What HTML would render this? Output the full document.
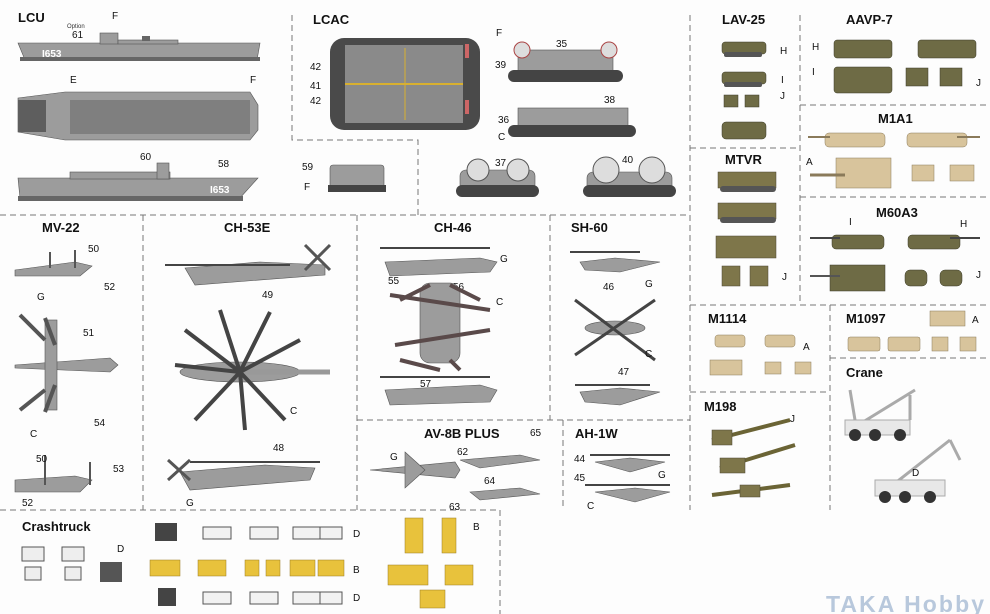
<!DOCTYPE html>
<html><head><meta charset="utf-8"><style>
html,body{margin:0;padding:0;background:#fff;}
svg{display:block}
text{font-family:"Liberation Sans",sans-serif;}
.t{font-weight:bold;font-size:13px;fill:#111}
.l{font-size:10px;fill:#111;font-family:"Liberation Sans Narrow","Liberation Sans",sans-serif}
.d{stroke:#777;stroke-width:1;stroke-dasharray:6,4;fill:none}
.g{fill:#9c9c9c;stroke:#555;stroke-width:.6}
.dg{fill:#666}
.c{fill:#6e6b45;stroke:#3a3a28;stroke-width:.5}
.tan{fill:#d8c49c;stroke:#8a7a5a;stroke-width:.5}
.ol{fill:#7e764a;stroke:#4a4530;stroke-width:.5}
.y{fill:#e8c23c;stroke:#9a7c20;stroke-width:.5}
.r{fill:#555}
</style></head><body>
<svg width="990" height="614" viewBox="0 0 990 614">
<rect width="990" height="614" fill="#fdfdfd"/>
<path class="d" d="M292 15V140H418V215M0 215H690M690 15V510M800 15V305M800 105H990M690 148H800M800 197H990M690 305H990M830 305V510M830 358H990M690 392H830M143 215V510M357 215V510M550 215V420M357 420H690M563 420V510M0 510H500V614"/>
<!-- LCU -->
<text class="t" x="18" y="22">LCU</text>
<text class="l" x="112" y="19">F</text><text class="l" x="72" y="38">61</text>
<text x="67" y="28" font-size="6" fill="#333">Option</text>
<path class="g" d="M18 43 L260 43 L257 60 L25 60 Z"/>
<rect class="g" x="100" y="33" width="18" height="11"/><rect class="g" x="118" y="40" width="60" height="4"/><rect class="dg" x="142" y="36" width="8" height="5"/>
<rect class="dg" x="20" y="57" width="240" height="4"/>
<text x="42" y="57" font-size="10" fill="#fff" font-weight="bold">I653</text>
<text class="l" x="70" y="83">E</text><text class="l" x="250" y="83">F</text>
<path class="g" d="M18 98 L65 92 L250 92 L258 105 L258 130 L250 140 L65 140 L18 132 Z"/>
<rect fill="#7f7f7f" x="70" y="100" width="180" height="34"/>
<rect fill="#5e5e5e" x="18" y="100" width="28" height="32"/>
<text class="l" x="140" y="160">60</text><text class="l" x="218" y="167">58</text>
<path class="g" d="M18 178 L258 178 L240 198 L20 198 Z"/>
<rect class="g" x="70" y="172" width="100" height="7"/><rect class="g" x="157" y="163" width="12" height="16"/>
<rect class="dg" x="18" y="196" width="225" height="5"/>
<text x="210" y="193" font-size="10" fill="#fff" font-weight="bold">I653</text>
<!-- LCAC -->
<text class="t" x="313" y="24">LCAC</text>
<rect fill="#4a4a4a" x="330" y="38" width="150" height="92" rx="14"/>
<rect fill="#8a8a8a" x="345" y="45" width="118" height="78"/>
<path d="M345 84H463" stroke="#d8b030" stroke-width="2"/><path d="M405 48V120" stroke="#d8b030" stroke-width="1"/>
<rect fill="#c66" x="465" y="44" width="4" height="14"/><rect fill="#c66" x="465" y="100" width="4" height="14"/>
<text class="l" x="310" y="70">42</text><text class="l" x="310" y="89">41</text><text class="l" x="310" y="104">42</text>
<text class="l" x="496" y="36">F</text>
<rect class="g" x="518" y="50" width="95" height="22"/><rect fill="#444" x="508" y="70" width="115" height="12" rx="6"/>
<circle cx="522" cy="50" r="8" fill="#ddd" stroke="#a44"/><circle cx="609" cy="50" r="8" fill="#ddd" stroke="#a44"/>
<text class="l" x="556" y="47">35</text><text class="l" x="495" y="68">39</text>
<rect class="g" x="518" y="108" width="110" height="20"/><rect fill="#444" x="508" y="125" width="128" height="12" rx="6"/>
<text class="l" x="604" y="103">38</text><text class="l" x="498" y="123">36</text><text class="l" x="498" y="140">C</text>
<rect class="g" x="460" y="170" width="75" height="20" rx="6"/><rect fill="#444" x="456" y="185" width="83" height="12" rx="6"/>
<circle cx="478" cy="170" r="11" fill="#ddd" stroke="#555"/><circle cx="518" cy="170" r="11" fill="#ddd" stroke="#555"/>
<text class="l" x="495" y="166">37</text>
<rect class="g" x="587" y="172" width="85" height="20" rx="6"/><rect fill="#444" x="583" y="185" width="93" height="12" rx="6"/>
<circle cx="606" cy="170" r="13" fill="#ddd" stroke="#555"/><circle cx="652" cy="170" r="13" fill="#ddd" stroke="#555"/>
<text class="l" x="622" y="163">40</text>
<rect class="g" x="330" y="165" width="54" height="24" rx="3"/><rect fill="#444" x="328" y="185" width="58" height="7"/>
<text class="l" x="302" y="170">59</text><text class="l" x="304" y="190">F</text>
<!-- LAV-25 -->
<text class="t" x="722" y="24">LAV-25</text>
<rect class="c" x="722" y="42" width="44" height="12" rx="3"/><rect class="r" x="724" y="52" width="38" height="5" rx="2"/><text class="l" x="780" y="54">H</text>
<rect class="c" x="722" y="72" width="44" height="12" rx="3"/><rect class="r" x="724" y="82" width="38" height="5" rx="2"/><text class="l" x="781" y="83">I</text>
<rect class="c" x="724" y="95" width="14" height="12"/><rect class="c" x="745" y="95" width="14" height="12"/><text class="l" x="780" y="99">J</text>
<rect class="c" x="722" y="122" width="44" height="17" rx="4"/>
<!-- AAVP-7 -->
<text class="t" x="846" y="24">AAVP-7</text>
<text class="l" x="812" y="50">H</text><rect class="c" x="834" y="40" width="58" height="18" rx="3"/>
<rect class="c" x="918" y="40" width="58" height="18" rx="3"/>
<text class="l" x="812" y="75">I</text><rect class="c" x="834" y="67" width="58" height="26" rx="3"/>
<rect class="c" x="906" y="68" width="22" height="18"/><rect class="c" x="940" y="68" width="22" height="18"/><text class="l" x="976" y="86">J</text>
<!-- M1A1 -->
<text class="t" x="878" y="123">M1A1</text>
<rect class="tan" x="825" y="133" width="60" height="14" rx="4"/><rect class="tan" x="907" y="133" width="60" height="14" rx="4"/>
<path d="M808 137H830M957 137H980" stroke="#8a7a5a" stroke-width="2"/>
<text class="l" x="806" y="165">A</text><rect class="tan" x="836" y="158" width="55" height="30"/><path d="M810 175H845" stroke="#8a7a5a" stroke-width="3"/>
<rect class="tan" x="912" y="165" width="22" height="16"/><rect class="tan" x="950" y="165" width="24" height="16"/>
<!-- M60A3 -->
<text class="t" x="876" y="217">M60A3</text><text class="l" x="849" y="225">I</text><text class="l" x="960" y="227">H</text>
<rect class="c" x="832" y="235" width="52" height="14" rx="4"/><rect class="c" x="908" y="235" width="52" height="14" rx="4"/>
<path d="M810 238H840M950 238H980" stroke="#444" stroke-width="2"/>
<rect class="c" x="830" y="265" width="55" height="26"/><path d="M810 276H840" stroke="#555" stroke-width="2"/>
<rect class="c" x="905" y="270" width="22" height="16" rx="5"/><rect class="c" x="940" y="270" width="22" height="16" rx="5"/><text class="l" x="976" y="278">J</text>
<!-- MTVR -->
<text class="t" x="725" y="164">MTVR</text>
<rect class="ol" x="718" y="172" width="58" height="16"/><rect class="r" x="720" y="186" width="56" height="6" rx="3"/>
<rect class="ol" x="718" y="203" width="58" height="16"/><rect class="r" x="720" y="217" width="56" height="6" rx="3"/>
<rect class="ol" x="716" y="236" width="60" height="22"/>
<rect class="ol" x="722" y="266" width="18" height="20"/><rect class="ol" x="750" y="266" width="18" height="20"/><text class="l" x="782" y="280">J</text>
<!-- MV-22 -->
<text class="t" x="42" y="232">MV-22</text>
<path class="g" d="M15 270 L75 262 L92 266 L80 276 L15 276Z"/><path d="M50 252V268M75 250V268" stroke="#555" stroke-width="2"/>
<text class="l" x="88" y="252">50</text><text class="l" x="104" y="290">52</text><text class="l" x="37" y="300">G</text>
<path class="g" d="M15 365 L110 358 L118 365 L110 372 L15 368Z"/><rect class="g" x="45" y="320" width="12" height="90"/>
<path d="M20 315L45 340M20 410L45 390M45 318L55 345M45 412L55 385" stroke="#555" stroke-width="4"/>
<text class="l" x="83" y="336">51</text><text class="l" x="94" y="426">54</text><text class="l" x="30" y="437">C</text>
<path class="g" d="M15 480 L75 476 L92 480 L80 492 L15 492Z"/><path d="M45 455V485M90 462V485" stroke="#555" stroke-width="2"/>
<text class="l" x="36" y="462">50</text><text class="l" x="113" y="472">53</text><text class="l" x="22" y="506">52</text>
<!-- CH-53E -->
<text class="t" x="224" y="232">CH-53E</text>
<path class="g" d="M185 268 L260 262 L325 265 L325 275 L195 285Z"/><path d="M165 265H290" stroke="#444" stroke-width="2"/>
<path d="M305 245L330 270M305 270L330 245" stroke="#555" stroke-width="3"/><text class="l" x="262" y="298">49</text>
<ellipse class="g" cx="240" cy="372" rx="60" ry="10"/><path d="M240 372L330 372" stroke="#999" stroke-width="5"/>
<path d="M240 372L220 310M240 372L270 312M240 372L300 340M240 372L285 420M240 372L245 430M240 372L195 420M240 372L175 365M240 372L185 330" stroke="#444" stroke-width="4"/>
<text class="l" x="290" y="414">C</text>
<path class="g" d="M180 472 L265 465 L315 468 L310 480 L190 490Z"/><path d="M190 462H320" stroke="#444" stroke-width="2"/>
<path d="M168 460L190 480M168 480L190 460" stroke="#555" stroke-width="3"/><text class="l" x="273" y="451">48</text><text class="l" x="186" y="506">G</text>
<!-- CH-46 -->
<text class="t" x="434" y="232">CH-46</text>
<path d="M380 248H490" stroke="#444" stroke-width="2"/><path class="g" d="M385 262 L480 258 L497 262 L490 272 L390 276Z"/>
<text class="l" x="500" y="262">G</text><text class="l" x="388" y="284">55</text><text class="l" x="453" y="290">56</text>
<rect class="g" x="420" y="283" width="40" height="80" rx="10"/>
<path d="M390 295L490 310M395 345L490 330M400 300L430 285M450 285L480 300M400 360L440 370M450 360L460 370" stroke="#5a4a4a" stroke-width="4"/>
<text class="l" x="496" y="305">C</text>
<path d="M380 377H490" stroke="#444" stroke-width="2"/><path class="g" d="M385 390 L480 385 L497 390 L490 402 L390 405Z"/><text class="l" x="420" y="387">57</text>
<!-- SH-60 -->
<text class="t" x="571" y="232">SH-60</text>
<path d="M570 252H640" stroke="#444" stroke-width="2"/><path class="g" d="M580 262 L615 258 L660 262 L620 272 L585 270Z"/>
<text class="l" x="603" y="290">46</text><text class="l" x="645" y="287">G</text>
<ellipse class="g" cx="615" cy="328" rx="30" ry="7"/><path d="M575 300L655 360M575 355L655 300" stroke="#444" stroke-width="3"/>
<text class="l" x="645" y="357">C</text>
<path d="M575 385H650" stroke="#444" stroke-width="2"/><path class="g" d="M580 392 L620 388 L660 392 L620 405 L585 402Z"/><text class="l" x="618" y="375">47</text>
<!-- AV-8B -->
<text class="t" x="424" y="438">AV-8B PLUS</text><text class="l" x="530" y="436">65</text>
<path class="g" d="M370 470L455 462L460 470L455 478Z"/><path class="g" d="M405 452L425 470L405 488Z"/><text class="l" x="390" y="460">G</text>
<path class="g" d="M460 460L520 455L540 460L480 468Z"/><text class="l" x="457" y="455">62</text>
<path class="g" d="M470 492L520 488L540 494L480 500Z"/><text class="l" x="484" y="484">64</text><text class="l" x="449" y="510">63</text>
<!-- AH-1W -->
<text class="t" x="575" y="438">AH-1W</text>
<path d="M590 455H670" stroke="#444" stroke-width="2"/><path class="g" d="M595 462 L630 458 L665 462 L630 472Z"/><text class="l" x="574" y="462">44</text>
<path d="M585 485H670" stroke="#444" stroke-width="2"/><path class="g" d="M595 492 L635 488 L670 492 L635 502Z"/><text class="l" x="574" y="481">45</text><text class="l" x="587" y="509">C</text><text class="l" x="658" y="478">G</text>
<!-- M1114 -->
<text class="t" x="708" y="323">M1114</text>
<rect class="tan" x="715" y="335" width="30" height="12" rx="3"/><rect class="tan" x="765" y="335" width="30" height="12" rx="3"/><text class="l" x="803" y="350">A</text>
<rect class="tan" x="710" y="360" width="32" height="15"/><rect class="tan" x="765" y="362" width="16" height="12"/><rect class="tan" x="795" y="362" width="16" height="12"/>
<!-- M1097 -->
<text class="t" x="846" y="323">M1097</text>
<rect class="tan" x="930" y="311" width="35" height="15"/><text class="l" x="972" y="323">A</text>
<rect class="tan" x="848" y="337" width="32" height="14" rx="2"/><rect class="tan" x="888" y="337" width="32" height="14" rx="2"/><rect class="tan" x="932" y="337" width="16" height="14"/><rect class="tan" x="960" y="337" width="16" height="14"/>
<!-- M198 -->
<text class="t" x="704" y="411">M198</text><text class="l" x="790" y="422">J</text>
<path d="M712 440L790 420M720 468L795 445M712 495L790 485" stroke="#6b6435" stroke-width="4"/>
<rect class="ol" x="712" y="430" width="20" height="15"/><rect class="ol" x="720" y="458" width="25" height="15"/><rect class="ol" x="740" y="485" width="20" height="12"/>
<!-- Crane -->
<text class="t" x="846" y="377">Crane</text>
<path d="M850 430L915 390M855 420L850 390M910 395L910 420" stroke="#aaa" stroke-width="3" fill="none"/>
<rect fill="#e8e8e8" stroke="#aaa" x="845" y="420" width="65" height="15"/>
<circle cx="855" cy="435" r="6" fill="#333"/><circle cx="875" cy="435" r="6" fill="#333"/><circle cx="900" cy="435" r="6" fill="#333"/>
<path d="M880 495L950 440M950 440L960 460" stroke="#aaa" stroke-width="3" fill="none"/><text class="l" x="912" y="476">D</text>
<rect fill="#e8e8e8" stroke="#aaa" x="875" y="480" width="70" height="16"/>
<circle cx="885" cy="497" r="6" fill="#333"/><circle cx="905" cy="497" r="6" fill="#333"/><circle cx="930" cy="497" r="6" fill="#333"/>
<!-- Crashtruck -->
<text class="t" x="22" y="531">Crashtruck</text><text class="l" x="117" y="552">D</text>
<rect fill="#eee" stroke="#555" x="22" y="547" width="22" height="14"/><rect fill="#eee" stroke="#555" x="62" y="547" width="22" height="14"/>
<rect fill="#eee" stroke="#555" x="25" y="567" width="16" height="13"/><rect fill="#eee" stroke="#555" x="65" y="567" width="16" height="13"/><rect fill="#555" x="100" y="562" width="22" height="20"/>
<rect fill="#444" x="155" y="523" width="22" height="18"/>
<g fill="#f2f2f2" stroke="#555">
<rect x="203" y="527" width="28" height="12"/><rect x="250" y="527" width="28" height="12"/><rect x="293" y="527" width="28" height="12"/><rect x="320" y="527" width="22" height="12"/>
<rect x="203" y="592" width="28" height="12"/><rect x="250" y="592" width="28" height="12"/><rect x="293" y="592" width="28" height="12"/><rect x="320" y="592" width="22" height="12"/></g>
<rect fill="#444" x="158" y="588" width="18" height="18"/>
<g class="y"><rect x="150" y="560" width="30" height="16"/><rect x="198" y="560" width="28" height="16"/><rect x="245" y="560" width="14" height="16"/><rect x="266" y="560" width="14" height="16"/><rect x="290" y="560" width="25" height="16"/><rect x="318" y="560" width="26" height="16"/>
<rect x="405" y="518" width="18" height="35"/><rect x="442" y="518" width="14" height="35"/><rect x="388" y="565" width="40" height="20"/><rect x="445" y="565" width="28" height="20"/><rect x="420" y="590" width="25" height="18"/></g>
<text class="l" x="353" y="537">D</text><text class="l" x="353" y="573">B</text><text class="l" x="353" y="601">D</text><text class="l" x="473" y="530">B</text>
<text x="826" y="612" font-size="23" fill="#b8c8dc" font-weight="bold" font-family="Liberation Sans" textLength="158">TAKA Hobby</text>
</svg>
</body></html>
